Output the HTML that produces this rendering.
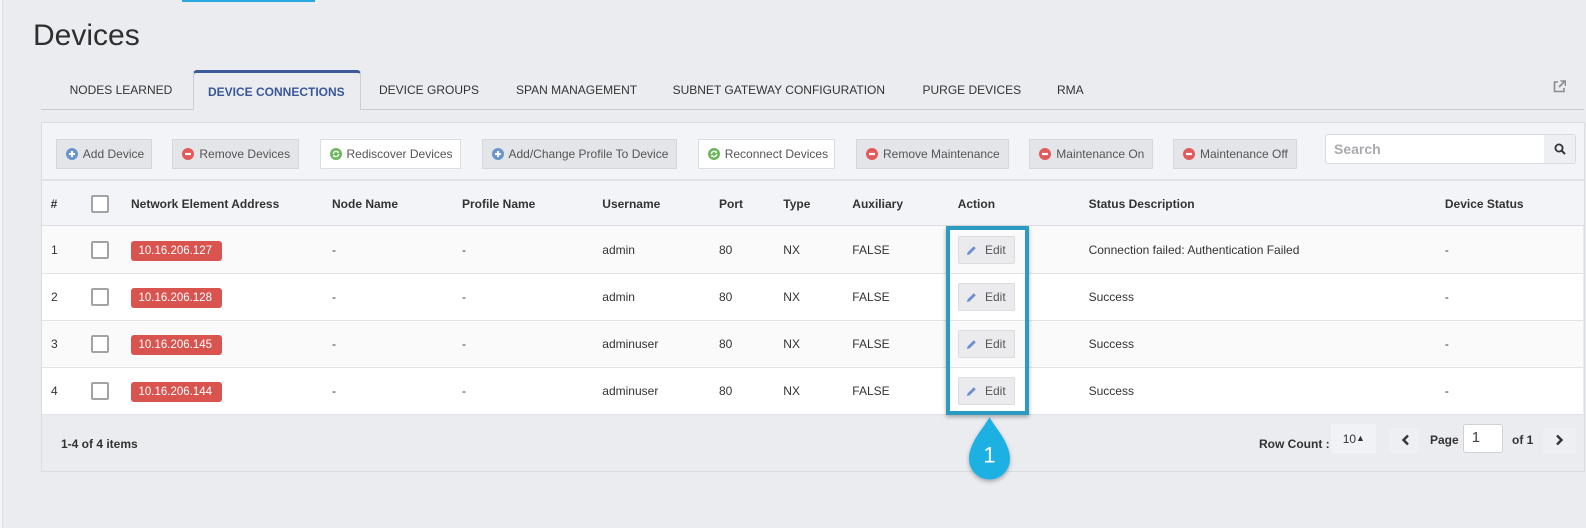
<!DOCTYPE html>
<html>
<head>
<meta charset="utf-8">
<style>
*{box-sizing:border-box;margin:0;padding:0}
html,body{width:1586px;height:528px;overflow:hidden;background:#ebecf0;font-family:"Liberation Sans",Arial,sans-serif;color:#333}
.a{position:absolute}
.tab{position:absolute;top:80px;height:20px;line-height:20px;font-size:12px;color:#333;white-space:nowrap}
.btn{position:absolute;top:138.5px;height:30.5px;border:1px solid #d6d7dc;background:#e4e5e9;font-size:12px;color:#555;display:flex;align-items:center;padding-left:9px;white-space:nowrap;border-radius:1px}
.btn.w{background:#fff;border-color:#dcdddf}
.btn svg{margin-right:5px;flex:none}
.th{position:absolute;top:194px;height:20px;line-height:20px;font-size:12px;font-weight:bold;color:#333;white-space:nowrap}
.td{position:absolute;height:20px;line-height:20px;font-size:12px;color:#333;white-space:nowrap}
.cb{position:absolute;left:91px;width:18px;height:18px;border:2px solid #a3a3a6;border-radius:2px;background:#fff}
.ip{position:absolute;left:131px;width:91px;height:20px;background:#d9534f;border-radius:3px;color:#fff;font-size:11.5px;line-height:20px;padding-left:7.5px;white-space:nowrap}
.edit{position:absolute;left:958px;width:57px;height:28px;background:#ebebee;border:1px solid #dcdcdf;border-radius:2px;font-size:12px;color:#555;display:flex;align-items:center;padding-left:7px}
.edit svg{margin-right:8px}
.row{position:absolute;left:42px;width:1541px;border-bottom:1px solid #e2e3e7}
</style>
</head>
<body>
<div class="a" style="left:0;top:0;width:2px;height:528px;background:#f6f6f8"></div>
<div class="a" style="left:2px;top:0;width:1px;height:528px;background:#dcdde1"></div>
<div class="a" style="left:182px;top:0;width:133px;height:2px;background:#29a8df"></div>
<div class="a" style="left:33px;top:17.5px;font-size:30px;line-height:36px;color:#2f2f2f">Devices</div>

<div class="a" style="left:41px;top:109px;width:1543px;height:1px;background:#c9cacf"></div>
<div class="a" style="left:192.5px;top:70px;width:168px;height:40px;border-top:3px solid #3d5a9b;border-left:1px solid #cdced3;border-right:1px solid #cdced3;border-radius:4px 4px 0 0;background:#ebecf0"></div>
<div class="tab" style="left:69.6px">NODES LEARNED</div>
<div class="tab" style="left:208px;top:82px;font-weight:bold;color:#3a5796">DEVICE CONNECTIONS</div>
<div class="tab" style="left:379px">DEVICE GROUPS</div>
<div class="tab" style="left:516px">SPAN MANAGEMENT</div>
<div class="tab" style="left:672.6px">SUBNET GATEWAY CONFIGURATION</div>
<div class="tab" style="left:922.5px">PURGE DEVICES</div>
<div class="tab" style="left:1057px">RMA</div>
<svg class="a" style="left:1553px;top:80px" width="13" height="13" viewBox="0 0 13 13">
<path d="M5 2H1.5v9.5H11V8" fill="none" stroke="#8a8b90" stroke-width="1.6"/>
<path d="M6 7L11.5 1.5M7.5 1h5v5" fill="none" stroke="#8a8b90" stroke-width="1.6"/>
</svg>

<div class="a" style="left:41px;top:122px;width:1544px;height:350px;border:1px solid #dbdce1;background:#ebecf0"></div>
<div class="a" style="left:42px;top:123px;width:1542px;height:57px;background:#f3f4f7"></div>
<div class="btn" style="left:55.8px;width:96px"><svg width="12" height="12" viewBox="0 0 12 12"><circle cx="6" cy="6" r="6" fill="#6a95cd"/><path d="M6 3v6M3 6h6" stroke="#fff" stroke-width="2"/></svg>Add Device</div>
<div class="btn" style="left:172.4px;width:126.5px"><svg width="12" height="12" viewBox="0 0 12 12"><circle cx="6" cy="6" r="6" fill="#e35a5c"/><path d="M3 6h6" stroke="#fff" stroke-width="2.2"/></svg>Remove Devices</div>
<div class="btn w" style="left:319.5px;width:141px"><svg width="12" height="12" viewBox="0 0 12 12"><circle cx="6" cy="6" r="6" fill="#6cb85b"/><path d="M3.3 6a2.7 2.7 0 0 1 4.8-1.7M8.7 6a2.7 2.7 0 0 1-4.8 1.7" fill="none" stroke="#fff" stroke-width="1.3"/><path d="M8.8 2.8v2.2H6.6z M3.2 9.2V7h2.2z" fill="#fff"/></svg>Rediscover Devices</div>
<div class="btn" style="left:481.5px;width:195px"><svg width="12" height="12" viewBox="0 0 12 12"><circle cx="6" cy="6" r="6" fill="#6a95cd"/><path d="M6 3v6M3 6h6" stroke="#fff" stroke-width="2"/></svg>Add/Change Profile To Device</div>
<div class="btn w" style="left:697.7px;width:137.6px"><svg width="12" height="12" viewBox="0 0 12 12"><circle cx="6" cy="6" r="6" fill="#6cb85b"/><path d="M3.3 6a2.7 2.7 0 0 1 4.8-1.7M8.7 6a2.7 2.7 0 0 1-4.8 1.7" fill="none" stroke="#fff" stroke-width="1.3"/><path d="M8.8 2.8v2.2H6.6z M3.2 9.2V7h2.2z" fill="#fff"/></svg>Reconnect Devices</div>
<div class="btn" style="left:856px;width:152.7px"><svg width="12" height="12" viewBox="0 0 12 12"><circle cx="6" cy="6" r="6" fill="#e35a5c"/><path d="M3 6h6" stroke="#fff" stroke-width="2.2"/></svg>Remove Maintenance</div>
<div class="btn" style="left:1029.3px;width:123.3px"><svg width="12" height="12" viewBox="0 0 12 12"><circle cx="6" cy="6" r="6" fill="#e35a5c"/><path d="M3 6h6" stroke="#fff" stroke-width="2.2"/></svg>Maintenance On</div>
<div class="btn" style="left:1173px;width:123.8px"><svg width="12" height="12" viewBox="0 0 12 12"><circle cx="6" cy="6" r="6" fill="#e35a5c"/><path d="M3 6h6" stroke="#fff" stroke-width="2.2"/></svg>Maintenance Off</div>
<div class="a" style="left:1325px;top:134px;width:251px;height:30px;border:1px solid #d9dadd;border-radius:3px;background:#fff;overflow:hidden">
  <div class="a" style="left:8px;top:5px;font-size:14px;font-weight:bold;color:#a9aaae;line-height:18px">Search</div>
  <div class="a" style="left:218px;top:0;width:32px;height:28px;background:#eeeff2"></div>
  <svg class="a" style="left:228px;top:8px" width="12" height="12" viewBox="0 0 12 12"><circle cx="5" cy="5" r="3.6" fill="none" stroke="#333" stroke-width="1.8"/><path d="M7.6 7.6L11 11" stroke="#333" stroke-width="2"/></svg>
</div>

<div class="a" style="left:42px;top:179px;width:1542px;height:2px;background:#e1e2e6"></div>
<div class="a" style="left:42px;top:181px;width:1542px;height:45px;background:#f3f4f7;border-bottom:1px solid #dcdde1"></div>
<div class="th" style="left:50.6px">#</div>
<div class="cb" style="top:195px"></div>
<div class="th" style="left:131px">Network Element Address</div>
<div class="th" style="left:332px">Node Name</div>
<div class="th" style="left:462px">Profile Name</div>
<div class="th" style="left:602.3px">Username</div>
<div class="th" style="left:719px">Port</div>
<div class="th" style="left:783.3px">Type</div>
<div class="th" style="left:852.3px">Auxiliary</div>
<div class="th" style="left:957.7px">Action</div>
<div class="th" style="left:1088.6px">Status Description</div>
<div class="th" style="left:1444.9px">Device Status</div>

<div class="row" style="top:226px;height:47.5px;background:#fafafa"></div>
<div class="row" style="top:273.5px;height:47px;background:#fff"></div>
<div class="row" style="top:320.5px;height:47px;background:#fafafa"></div>
<div class="row" style="top:367.5px;height:47.5px;background:#fff"></div>

<div class="td" style="left:51px;top:240px">1</div>
<div class="cb" style="top:241px"></div>
<div class="ip" style="top:240.5px">10.16.206.127</div>
<div class="td" style="left:332px;top:240px">-</div>
<div class="td" style="left:462px;top:240px">-</div>
<div class="td" style="left:602.3px;top:240px">admin</div>
<div class="td" style="left:719px;top:240px">80</div>
<div class="td" style="left:783.3px;top:240px">NX</div>
<div class="td" style="left:852.3px;top:240px">FALSE</div>
<div class="edit" style="top:236px"><svg width="11" height="11" viewBox="0 0 11 11"><path d="M1 10l.6-2.6L7.8 1.2l2 2L3.6 9.4z" fill="#6b8fd0"/></svg>Edit</div>
<div class="td" style="left:1088.6px;top:240px">Connection failed: Authentication Failed</div>
<div class="td" style="left:1444.9px;top:240px">-</div>

<div class="td" style="left:51px;top:287px">2</div>
<div class="cb" style="top:288px"></div>
<div class="ip" style="top:287.5px">10.16.206.128</div>
<div class="td" style="left:332px;top:287px">-</div>
<div class="td" style="left:462px;top:287px">-</div>
<div class="td" style="left:602.3px;top:287px">admin</div>
<div class="td" style="left:719px;top:287px">80</div>
<div class="td" style="left:783.3px;top:287px">NX</div>
<div class="td" style="left:852.3px;top:287px">FALSE</div>
<div class="edit" style="top:283px"><svg width="11" height="11" viewBox="0 0 11 11"><path d="M1 10l.6-2.6L7.8 1.2l2 2L3.6 9.4z" fill="#6b8fd0"/></svg>Edit</div>
<div class="td" style="left:1088.6px;top:287px">Success</div>
<div class="td" style="left:1444.9px;top:287px">-</div>

<div class="td" style="left:51px;top:334px">3</div>
<div class="cb" style="top:335px"></div>
<div class="ip" style="top:334.5px">10.16.206.145</div>
<div class="td" style="left:332px;top:334px">-</div>
<div class="td" style="left:462px;top:334px">-</div>
<div class="td" style="left:602.3px;top:334px">adminuser</div>
<div class="td" style="left:719px;top:334px">80</div>
<div class="td" style="left:783.3px;top:334px">NX</div>
<div class="td" style="left:852.3px;top:334px">FALSE</div>
<div class="edit" style="top:330px"><svg width="11" height="11" viewBox="0 0 11 11"><path d="M1 10l.6-2.6L7.8 1.2l2 2L3.6 9.4z" fill="#6b8fd0"/></svg>Edit</div>
<div class="td" style="left:1088.6px;top:334px">Success</div>
<div class="td" style="left:1444.9px;top:334px">-</div>

<div class="td" style="left:51px;top:381px">4</div>
<div class="cb" style="top:382px"></div>
<div class="ip" style="top:381.5px">10.16.206.144</div>
<div class="td" style="left:332px;top:381px">-</div>
<div class="td" style="left:462px;top:381px">-</div>
<div class="td" style="left:602.3px;top:381px">adminuser</div>
<div class="td" style="left:719px;top:381px">80</div>
<div class="td" style="left:783.3px;top:381px">NX</div>
<div class="td" style="left:852.3px;top:381px">FALSE</div>
<div class="edit" style="top:377px"><svg width="11" height="11" viewBox="0 0 11 11"><path d="M1 10l.6-2.6L7.8 1.2l2 2L3.6 9.4z" fill="#6b8fd0"/></svg>Edit</div>
<div class="td" style="left:1088.6px;top:381px">Success</div>
<div class="td" style="left:1444.9px;top:381px">-</div>

<div class="td" style="left:61px;top:433.5px;font-weight:bold">1-4 of 4 items</div>
<div class="td" style="left:1259px;top:434px;font-weight:bold">Row Count :</div>
<div class="a" style="left:1330.7px;top:424px;width:45.3px;height:29.3px;background:#f1f2f5"></div>
<div class="td" style="left:1342.7px;top:428.5px">10<span style="font-size:9px;position:relative;top:-2px">&#9650;</span></div>
<div class="a" style="left:1389.3px;top:428px;width:29.7px;height:25px;background:#eeeff2"></div>
<svg class="a" style="left:1401px;top:434px" width="9" height="12" viewBox="0 0 9 12"><path d="M7 1.5L2.5 6 7 10.5" fill="none" stroke="#333" stroke-width="2.4"/></svg>
<div class="td" style="left:1430px;top:430px;font-weight:bold">Page</div>
<div class="a" style="left:1463.3px;top:424.3px;width:39.4px;height:29px;background:#fff;border:1px solid #cfd0d4;border-radius:3px"></div>
<div class="a" style="left:1471.7px;top:428px;font-size:15px;line-height:20px;color:#444">1</div>
<div class="td" style="left:1512px;top:430px;font-weight:bold">of 1</div>
<div class="a" style="left:1543.3px;top:428px;width:32.7px;height:25px;background:#eeeff2"></div>
<svg class="a" style="left:1555px;top:434px" width="9" height="12" viewBox="0 0 9 12"><path d="M2 1.5L6.5 6 2 10.5" fill="none" stroke="#333" stroke-width="2.4"/></svg>

<div class="a" style="left:946px;top:225.7px;width:83px;height:189.3px;border:4px solid #2a9bc1;box-shadow:0 2px 4px rgba(0,0,0,.3)"></div>

<svg class="a" style="left:965px;top:412px" width="50" height="76" viewBox="0 0 50 76">
<defs><filter id="sh" x="-30%" y="-30%" width="160%" height="160%"><feDropShadow dx="0" dy="2" stdDeviation="2" flood-color="#000" flood-opacity="0.3"/></filter></defs>
<path d="M24.5,5 C30,16 45,30 45,47 A20.5,20.5 0 1 1 4,47 C4,30 19,16 24.5,5 Z" fill="#1bb0e3" filter="url(#sh)"/>
<text x="24.5" y="50.6" text-anchor="middle" font-family="Liberation Sans, Arial, sans-serif" font-size="22" fill="#fff">1</text>
</svg>
</body>
</html>
